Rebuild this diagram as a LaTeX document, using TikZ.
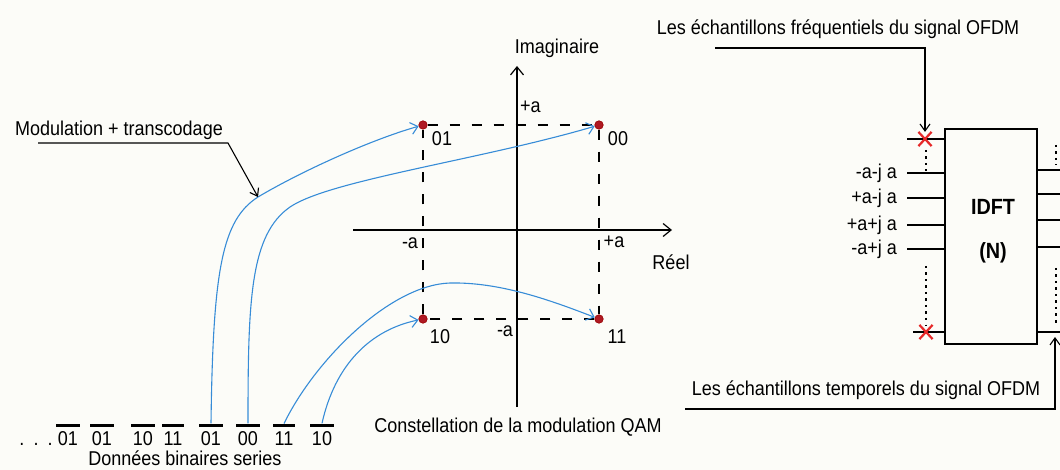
\documentclass[tikz,border=0pt]{standalone}
\usepackage{fontspec}
\setmainfont[FakeStretch=0.9]{Liberation Sans}
\usetikzlibrary{arrows.meta,shapes.misc}
\definecolor{curveblue}{RGB}{55,140,215}
\definecolor{bgcol}{RGB}{252,252,248}
\definecolor{xred}{RGB}{230,40,40}
\definecolor{dotred}{RGB}{175,25,35}
\newcommand\obarbits[1]{\vbox{\hrule height 3pt\kern 4.5pt\hbox{\kern1.5pt#1\kern1.5pt}}}
\begin{document}
\begin{tikzpicture}[x=1pt,y=-1pt,
  txt/.style={inner sep=0pt, font=\fontsize{20}{22}\selectfont},
  bit/.style={txt, anchor=base},
  bold/.style={inner sep=0pt, font=\bfseries\fontsize{22}{24}\selectfont},
  ptdot/.style={circle, fill=dotred, draw=red!60!black, line width=0.6pt, inner sep=0pt, minimum size=8.5pt},
  blueline/.style={draw=curveblue, line width=1.1pt, -{Straight Barb[length=7pt,width=12pt,line width=1.1pt]}},
  leader/.style={draw=black, line width=1.1pt, -{Straight Barb[length=7pt,width=10pt]}},
  axis/.style={draw=black, line width=1.2pt, -{Straight Barb[length=8pt,width=13pt]}},
  dashline/.style={draw=black, line width=1.1pt, dash pattern=on 10pt off 12pt},
  dotline/.style={draw=black, line width=1.2pt, dash pattern=on 2.5pt off 4pt},
  wire/.style={draw=black, line width=1.2pt},
  xmark/.style={cross out, draw=xred, line width=2.2pt, minimum width=11pt, minimum height=12pt, inner sep=0pt}]
\fill[bgcol] (0,0) rectangle (1060,470);
\useasboundingbox (0,0) rectangle (1060,470);

% ---- bits ----
\node[bit] (dots) at (36,445) {.\hspace{9pt}.\hspace{9pt}.};
\node[bit] (b1) at (68,445) {\obarbits{01}};
\node[bit] (b2) at (102,445) {\obarbits{01}};
\node[bit] (b3) at (143,445) {\obarbits{10}};
\node[bit] (b4) at (173,445) {\obarbits{11}};
\node[bit] (b5) at (211,445) {\obarbits{01}};
\node[bit] (b6) at (248,445) {\obarbits{00}};
\node[bit] (b7) at (284,445) {\obarbits{11}};
\node[bit] (b8) at (322,445) {\obarbits{10}};
\node[txt] (donnees) at (185,458) {Données binaires series};

% ---- constellation ----
\coordinate (vbot) at (517,407);
\coordinate (vtop) at (517,66);
\coordinate (hleft) at (353,230);
\coordinate (hright) at (672,230);
\draw[axis] (vbot) -- (vtop);
\draw[axis] (hleft) -- (hright);

\node[ptdot] (p01) at (423,125) {};
\node[ptdot] (p00) at (599,125) {};
\node[ptdot] (p10) at (423,319) {};
\node[ptdot] (p11) at (599,319) {};
\draw[dashline] (p01) -- (p00);
\draw[dashline] (p00) -- (p11);
\draw[dashline] (p11) -- (p10);
\draw[dashline] (p10) -- (p01);

\node[txt] (imag) at (557,48) {Imaginaire};
\node[txt] (reel) at (671,262) {Réel};
\node[txt, anchor=west] (pa1) at (520,107) {+a};
\node[txt] (ma1) at (410,243) {-a};
\node[txt] (pa2) at (614,242) {+a};
\node[txt] (ma2) at (505,331) {-a};
\node[txt] (l01) at (442,139) {01};
\node[txt] (l00) at (618,139) {00};
\node[txt] (l10) at (440,337) {10};
\node[txt] (l11) at (617,337) {11};
\node[txt] (qam) at (518,427) {Constellation de la modulation QAM};

% ---- curves ----
\coordinate (modt) at (258,197);
\draw[blueline] (b5.north) .. controls (213,270) and (222,220) .. (modt) .. controls (300,172) and (370,140) .. (p01);
\draw[blueline] (b6.north) .. controls (248,300) and (250,235) .. (290,207) .. controls (330,180) and (480,160) .. (p00);
\draw[blueline] (b7.north) .. controls (315,360) and (390,285) .. (450,283) .. controls (500,282) and (550,300) .. (p11);
\draw[blueline] (b8.north) .. controls (335,365) and (370,330) .. (p10);

% ---- modulation label ----
\node[txt] (mod) at (119,130) {Modulation + transcodage};
\coordinate (modu) at (38,143);
\coordinate (modk) at (228,143);
\draw[leader] (modu) -- (modk) -- (modt);

% ---- IDFT block ----
\node[draw=black, line width=1.3pt, minimum width=92pt, minimum height=215pt, inner sep=0pt] (idft) at (991,236.5) {};
\node[bold] (idftt) at (993,207) {IDFT};
\node[bold] (idftn) at (993,253) {(N)};

\coordinate (in0) at (907,139);
\coordinate (inN) at (913,332);
\draw[wire] (in0) -- (in0 -| idft.west);
\draw[wire] (inN) -- (inN -| idft.west);
\node[xmark] (x1) at (925,139) {};
\node[xmark] (x2) at (926,332) {};

\node[txt, anchor=east] (i1) at (897,173) {-a-j a};
\node[txt, anchor=east] (i2) at (897,198) {+a-j a};
\node[txt, anchor=east] (i3) at (897,225) {+a+j a};
\node[txt, anchor=east] (i4) at (897,249) {-a+j a};
\foreach \n in {i1,i2,i3,i4}{
  \draw[wire] ([xshift=10pt]\n.east) -- (\n -| idft.west);
}
\coordinate (d1a) at (926,150);
\coordinate (d1b) at (926,171);
\coordinate (d2a) at (926,266);
\draw[dotline] (d1a) -- (d1b);
\draw[dotline] (d2a) -- (x2.north);

% outputs
\foreach \yy/\nm in {170/o1,194/o2,220/o3,247/o4,332/o5}{
  \coordinate (\nm) at (1060,\yy);
  \draw[wire] (\nm -| idft.east) -- (\nm);
}
\coordinate (d3a) at (1056,145);
\coordinate (d3b) at (1056,165);
\coordinate (d4a) at (1056,268);
\coordinate (d4b) at (1056,325);
\draw[dotline] (d3a) -- (d3b);
\draw[dotline] (d4a) -- (d4b);

% ---- right labels ----
\node[txt] (freq) at (838,29) {Les échantillons fréquentiels du signal OFDM};
\coordinate (fq1) at (715,48);
\coordinate (fq2) at (925,48);
\draw[leader] (fq1) -- (fq2) -- (x1.north);

\node[txt] (temp) at (866,390) {Les échantillons temporels du signal OFDM};
\coordinate (tp1) at (685,409);
\coordinate (tp2) at (1055,409);
\coordinate (tp3) at (1055,337);
\draw[leader] (tp1) -- (tp2) -- (tp3);
\end{tikzpicture}
\end{document}
